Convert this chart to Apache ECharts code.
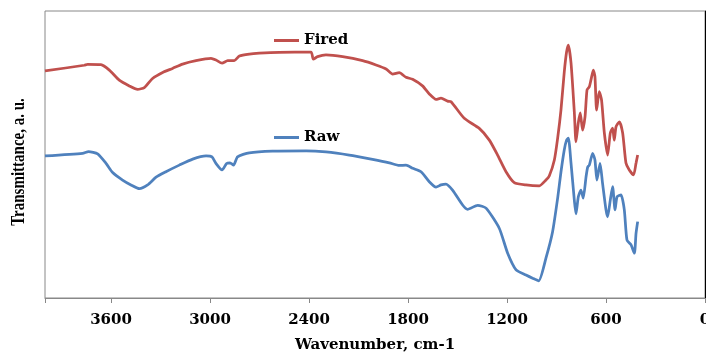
<!DOCTYPE html>
<html>
<head>
<meta charset="utf-8">
<script src="https://cdn.jsdelivr.net/npm/echarts@6/dist/echarts.min.js"></script>
<style>html,body{margin:0;padding:0;background:#fff}#c{width:706px;height:352px}</style>
</head>
<body>
<div id="c"></div>
<script>
var xTicks = [0, 600, 1200, 1800, 2400, 3000, 3600];
var seriesNames = ['Fired', 'Raw'];

var firedWavenumber = [4000,3762,3742,3661,3610,3550,3489,3439,3398,3348,3287,3227,3166,3085,2994,2964,2927,2893,2853,2822,2762,2701,2580,2388,2374,2348,2297,2196,2075,1994,1933,1893,1853,1812,1772,1712,1671,1630,1600,1560,1539,1459,1368,1307,1257,1206,1156,1085,1004,964,944,913,893,873,853,839,828,812,792,782,768,756,742,727,715,701,691,677,667,657,641,627,610,590,574,560,550,539,519,499,479,459,433,418,408];
var firedT = [79.1,81.1,81.4,81.3,79.4,75.9,73.9,72.7,73.3,76.5,78.6,80.0,81.5,82.7,83.5,82.9,81.8,82.7,82.7,84.3,85.0,85.3,85.6,85.7,83.2,84.1,84.7,84.1,82.7,81.2,79.8,78.0,78.5,76.9,76.2,73.9,71.1,69.2,69.6,68.6,68.4,62.6,59.1,55.0,49.8,44.0,40.2,39.4,39.1,41.1,42.5,48.1,55.7,65.5,78.7,85.7,88.1,81.9,64.8,54.4,61.0,64.5,58.5,63.2,72.5,73.6,76.0,79.4,77.1,65.5,71.9,69.0,57.5,49.8,57.5,59.2,55.0,59.7,61.4,57.5,47.0,44.6,42.9,47.0,49.8];

var rawWavenumber = [4000,3772,3736,3681,3630,3590,3530,3479,3428,3378,3327,3267,3186,3105,3024,2988,2964,2927,2899,2879,2857,2833,2762,2621,2418,2297,2156,2015,1913,1853,1812,1772,1721,1671,1630,1600,1570,1530,1469,1439,1378,1327,1247,1196,1145,1085,1045,1008,964,924,893,873,853,839,828,812,792,782,768,752,738,721,711,701,681,667,655,636,621,600,590,574,560,545,533,509,489,473,448,428,418,408];
var rawT = [49.5,50.4,51.0,50.2,46.9,43.7,41.1,39.4,38.1,39.4,42.1,44.0,46.3,48.4,49.5,49.2,46.9,44.6,46.9,47.1,46.3,49.2,50.6,51.2,51.3,50.9,49.8,48.3,47.1,46.2,46.3,45.2,44.0,40.5,38.6,39.4,39.7,37.6,32.4,30.9,32.3,31.3,24.3,15.6,9.8,8.0,6.9,6.0,13.9,23.0,34.8,43.9,51.6,55.0,55.7,47.0,34.1,29.3,35.2,37.6,34.8,42.2,45.6,46.3,50.4,48.1,41.1,46.9,40.0,30.7,28.3,34.1,38.8,30.7,35.3,35.9,30.7,20.2,18.5,15.6,22.5,26.6];

function pairs(xs, ys) { return xs.map(function (x, i) { return [x, ys[i]]; }); }

var chart = echarts.init(document.getElementById('c'), null, { renderer: 'canvas' });
var serifBold = { fontFamily: 'DejaVu Serif', fontWeight: 'bold', fontSize: 15, color: '#000' };
chart.setOption({
  animation: false,
  backgroundColor: '#fff',
  grid: { left: 45, right: 1, top: 11, bottom: 54, show: true, borderColor: '#888', borderWidth: 1,
    outerBoundsMode: 'none', containLabel: false },
  legend: [
    { data: [{ name: seriesNames[0] }], left: 274, top: 33, icon: 'rect', itemWidth: 25, itemHeight: 3,
      textStyle: serifBold, padding: 0 },
    { data: [{ name: seriesNames[1] }], left: 274, top: 130, icon: 'rect', itemWidth: 25, itemHeight: 3,
      textStyle: serifBold, padding: 0 }
  ],
  graphic: [{
    type: 'text', x: 19, y: 162, rotation: Math.PI / 2, scaleY: 1.25,
    style: { text: 'Transmittance, a. u.', font: 'bold 15px "Liberation Serif"', fill: '#000',
      textAlign: 'center', textVerticalAlign: 'middle' }
  }],
  xAxis: {
    type: 'value', min: 0, max: 4000, interval: 600, inverse: true,
    name: 'Wavenumber, cm-1', nameLocation: 'middle', nameGap: 40,
    nameTextStyle: serifBold,
    axisLine: { show: true, lineStyle: { color: '#888', width: 1 } },
    axisTick: { show: true, inside: false, length: 5, lineStyle: { color: '#888' } },
    axisLabel: { margin: 15, fontFamily: 'DejaVu Serif', fontWeight: 'bold', fontSize: 15, color: '#000',
      hideOverlap: false,
      formatter: function (v) { return xTicks.indexOf(v) >= 0 ? String(v) : ''; } },
    splitLine: { show: false }
  },
  yAxis: {
    type: 'value', min: 0, max: 100,
    axisLine: { show: true, lineStyle: { color: '#000', width: 1 } },
    axisTick: { show: false }, axisLabel: { show: false }, splitLine: { show: false }
  },
  series: [
    { name: seriesNames[0], type: 'line', data: pairs(firedWavenumber, firedT), showSymbol: false, symbol: 'none',
      smooth: 0.2, lineStyle: { color: '#C0504D', width: 2.75 }, itemStyle: { color: '#C0504D' } },
    { name: seriesNames[1], type: 'line', data: pairs(rawWavenumber, rawT), showSymbol: false, symbol: 'none',
      smooth: 0.2, lineStyle: { color: '#4F81BD', width: 2.75 }, itemStyle: { color: '#4F81BD' } }
  ]
});
</script>
</body>
</html>
